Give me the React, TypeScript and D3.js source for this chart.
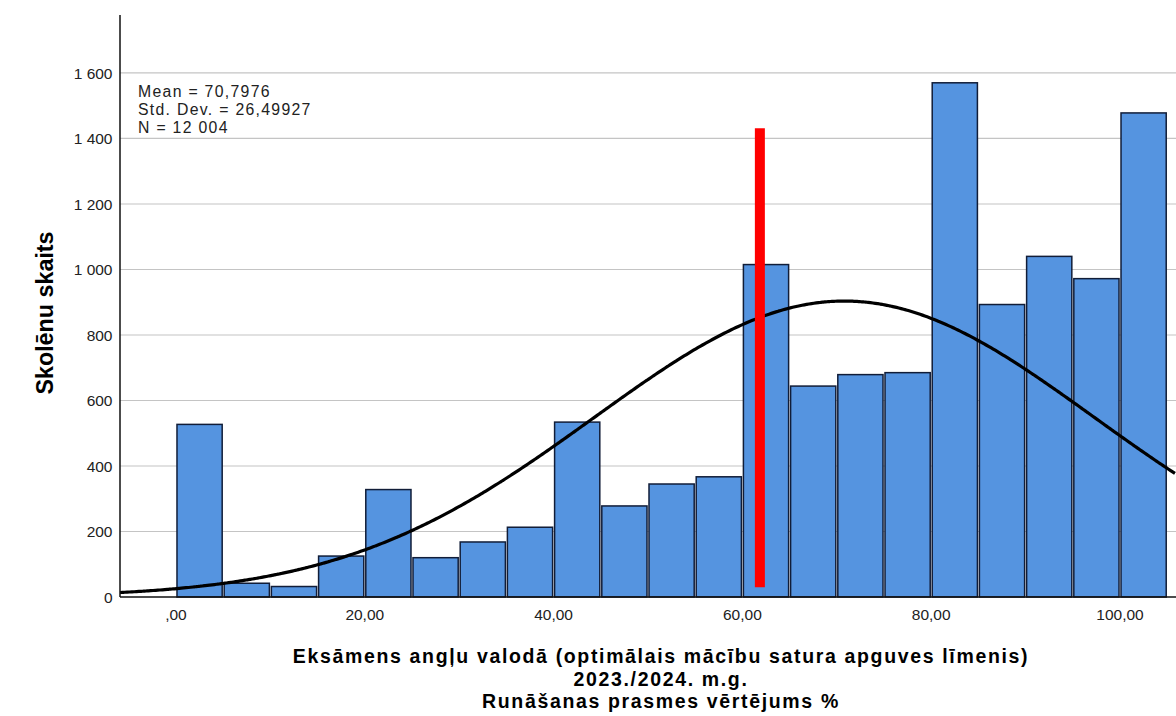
import React from "react";
import * as d3 from "d3";

const binStarts = [0, 5, 10, 15, 20, 25, 30, 35, 40, 45, 50, 55, 60, 65, 70, 75, 80, 85, 90, 95, 100];
const binCounts = [527, 42, 32, 125, 328, 120, 168, 213, 534, 278, 345, 367, 1015, 644, 679, 685, 1570, 893, 1040, 972, 1478];
const binWidth = 5;
const xTicks = [0, 20, 40, 60, 80, 100];
const xTickLabels = [",00", "20,00", "40,00", "60,00", "80,00", "100,00"];
const yTicks = [0, 200, 400, 600, 800, 1000, 1200, 1400, 1600];
const yTickLabels = ["0", "200", "400", "600", "800", "1 000", "1 200", "1 400", "1 600"];
const stat = { mean: 70.7976, sd: 26.49927, n: 12004 };
const statLines = ["Mean = 70,7976", "Std. Dev. = 26,49927", "N = 12 004"];
const markerValue = 61.85;
const markerRange = [30, 1431];
const yTitle = "Skolēnu skaits";
const xTitleLines = [
  "Eksāmens angļu valodā (optimālais mācību satura apguves līmenis)",
  "2023./2024. m.g.",
  "Runāšanas prasmes vērtējums %",
];

const W = 1176;
const H = 716;
const font = "'Liberation Sans', Arial, Helvetica, sans-serif";

export default function App() {
  const x = d3.scaleLinear().domain([-5.93, 105.93]).range([120, 1176]);
  const y = d3.scaleLinear().domain([0, 1777]).range([597, 15]);

  const dens = (v: number) =>
    (stat.n * binWidth) / (stat.sd * Math.sqrt(2 * Math.PI)) *
    Math.exp(-0.5 * ((v - stat.mean) / stat.sd) ** 2);
  const curveXs = d3.range(-5.93, 106.0, 0.25);
  const line = d3
    .line<number>()
    .x((v) => x(v))
    .y((v) => y(dens(v)))
    .curve(d3.curveBasis);

  return (
    <svg
      width={W}
      height={H}
      style={{ position: "fixed", left: 0, top: 0, background: "#fff" }}
      fontFamily={font}
    >
      <rect x={0} y={0} width={W} height={H} fill="#fff" />
      {yTicks.slice(1).map((t) => (
        <line key={t} x1={120} x2={W} y1={y(t)} y2={y(t)} stroke="#c4c4c4" strokeWidth={1.2} />
      ))}
      {binStarts.map((b, i) => {
        const x0 = x(b) + 1;
        const x1 = x(b + binWidth) - 1;
        return (
          <rect
            key={b}
            x={x0}
            y={y(binCounts[i])}
            width={x1 - x0}
            height={y(0) - y(binCounts[i])}
            fill="#5594e0"
            stroke="#111d38"
            strokeWidth={1.5}
          />
        );
      })}
      <path d={line(curveXs) || ""} fill="none" stroke="#000" strokeWidth={3.2} />
      <line
        x1={x(markerValue)}
        x2={x(markerValue)}
        y1={y(markerRange[0])}
        y2={y(markerRange[1])}
        stroke="#ff0000"
        strokeWidth={10}
      />
      <line x1={120} x2={120} y1={15} y2={597} stroke="#111" strokeWidth={1.5} />
      <line x1={120} x2={W} y1={597} y2={597} stroke="#111" strokeWidth={1.5} />
      {yTicks.map((t, i) => (
        <text
          key={t}
          x={112.5}
          y={y(t)}
          dy="0.36em"
          textAnchor="end"
          fontSize={15.5}
          fill="#222"
        >
          {yTickLabels[i]}
        </text>
      ))}
      {xTicks.map((t, i) => (
        <text key={t} x={x(t)} y={620} textAnchor="middle" fontSize={15.5} fill="#222">
          {xTickLabels[i]}
        </text>
      ))}
      {statLines.map((s, i) => (
        <text key={s} x={138} y={97.3 + i * 18} fontSize={15.8} letterSpacing={1.3} fill="#222">
          {s}
        </text>
      ))}
      <text
        transform={`translate(53,313) rotate(-90)`}
        textAnchor="middle"
        fontSize={23.3}
        fontWeight="bold"
        fill="#000"
      >
        {yTitle}
      </text>
      {xTitleLines.map((s, i) => (
        <text
          key={s}
          x={661}
          y={663.3 + i * 22.2}
          textAnchor="middle"
          fontSize={19.5}
          letterSpacing={1.65}
          fontWeight="bold"
          fill="#000"
        >
          {s}
        </text>
      ))}
    </svg>
  );
}
